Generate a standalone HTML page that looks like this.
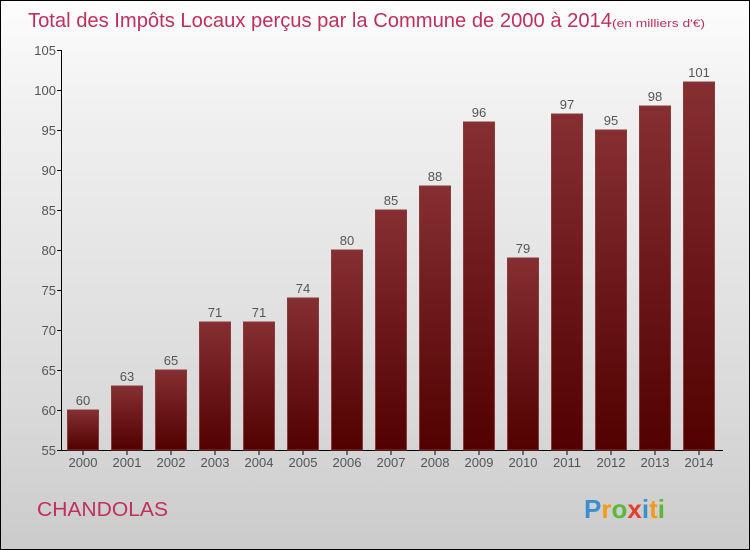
<!DOCTYPE html>
<html><head><meta charset="utf-8"><style>
html,body{margin:0;padding:0}
body{width:750px;height:550px;overflow:hidden;font-family:"Liberation Sans",sans-serif}
#wrap{position:relative;width:748px;height:548px;border:1px solid #000;background:linear-gradient(#fdfdfd,#f0f0f0 20%,#d9d9d9 75%,#cbcbcb)}
</style></head><body>
<div id="wrap">
<svg width="748" height="548" style="position:absolute;left:0;top:0" font-family="Liberation Sans, sans-serif">
<defs><linearGradient id="bg" x1="0" y1="0" x2="0" y2="1"><stop offset="0" stop-color="#852f33"/><stop offset="1" stop-color="#520000"/></linearGradient></defs>
<text x="27" y="26" font-size="20" fill="#c0305c"><tspan textLength="584" lengthAdjust="spacingAndGlyphs">Total des Impôts Locaux perçus par la Commune de 2000 à 2014</tspan><tspan font-size="11" textLength="93" lengthAdjust="spacingAndGlyphs">(en milliers d'€)</tspan></text>
<g id="axes"></g><g id="bars"></g>
<text x="36" y="515" font-size="20" fill="#c0305c" textLength="131" lengthAdjust="spacingAndGlyphs">CHANDOLAS</text>
<text x="583" y="517" font-size="26" font-weight="bold" fill="#f39a1c"><tspan fill="#3a8fd0">P</tspan><tspan fill="#f39a1c">r</tspan><tspan fill="#5cb838">o</tspan><tspan fill="#e63c2e">x</tspan><tspan fill="#3a8fd0">i</tspan><tspan fill="#f39a1c">t</tspan><tspan fill="#5cb838">i</tspan></text>
</svg></div>
<script>
const years=["2000","2001","2002","2003","2004","2005","2006","2007","2008","2009","2010","2011","2012","2013","2014"];
const values=[60,63,65,71,71,74,80,85,88,96,79,97,95,98,101];
const ticks=[55,60,65,70,75,80,85,90,95,100,105];
const NS="http://www.w3.org/2000/svg";
const y=v=>449-(v-55)*8;
const x=i=>81.5+i*44;
function mk(t,a,p){const e=document.createElementNS(NS,t);for(const k in a)e.setAttribute(k,a[k]);p.appendChild(e);return e;}
const ax=document.getElementById('axes'),bg=document.getElementById('bars');
const yl=mk('line',{x1:60.5,y1:y(105),x2:60.5,y2:449.5,stroke:'#000'},ax);


const xl=mk('line',{x1:60,y1:449.5,x2:722,y2:449.5,stroke:'#000'},ax);


ticks.forEach(t=>{
 mk('line',{x1:56,x2:60,y1:y(t)+.5,y2:y(t)+.5,stroke:'#000'},ax);
 const tx=mk('text',{x:55,y:y(t)+5,'text-anchor':'end','font-size':13,fill:'#555'},ax);tx.textContent=t;
 
 
});
years.forEach((yr,i)=>{
 const v=values[i];
 const r=mk('rect',{x:x(i)-15,y:y(v),width:31,height:449-y(v),fill:'url(#bg)',stroke:'#8a3a3e','stroke-width':1},bg);
 
 
 const l=mk('text',{x:x(i)+.5,y:y(v)-5,'text-anchor':'middle','font-size':13,fill:'#555'},bg);l.textContent=v;
 
 
 mk('line',{x1:x(i)+.5,x2:x(i)+.5,y1:450,y2:454,stroke:'#000'},ax);
 const xt=mk('text',{x:x(i)+.5,y:466,'text-anchor':'middle','font-size':13,fill:'#555'},ax);xt.textContent=yr;
 
 
});
</script>
</body></html>
